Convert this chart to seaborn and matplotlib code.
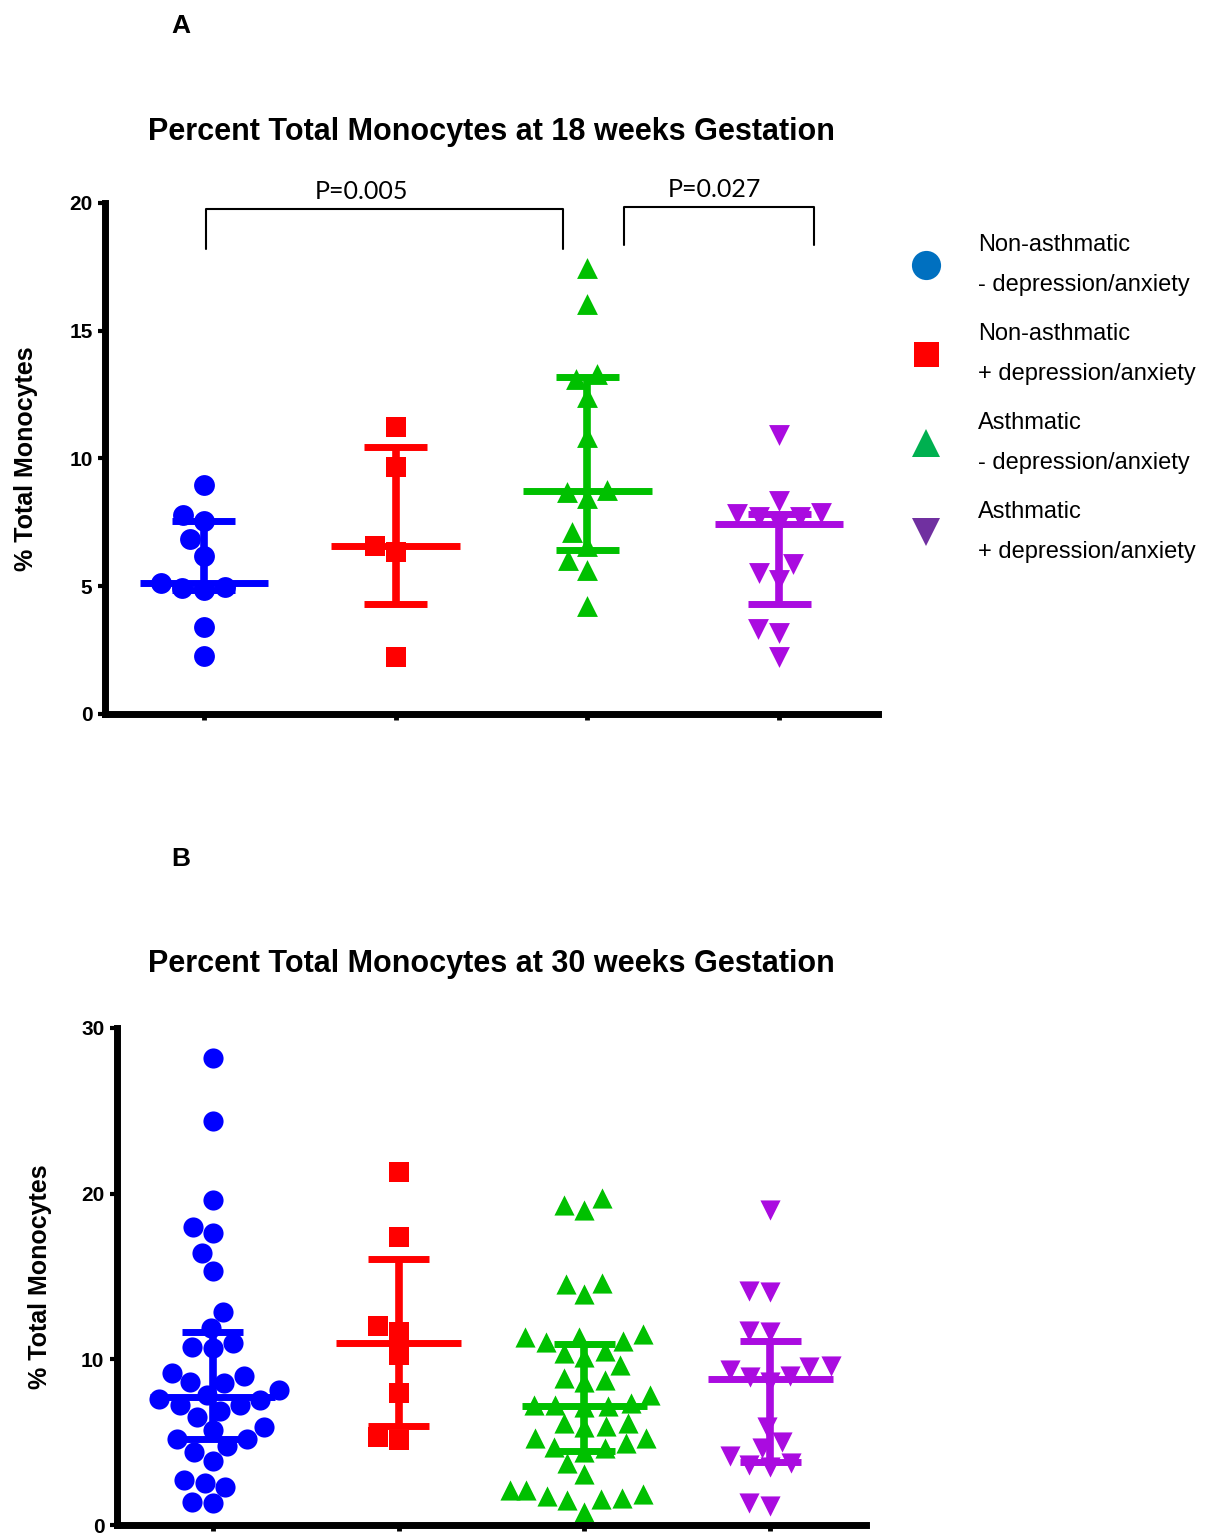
import numpy as np
import pandas as pd
import matplotlib.pyplot as plt
import seaborn as sns
from matplotlib.lines import Line2D
from matplotlib import font_manager

sns.set_theme(style="ticks")
plt.rcParams['font.family'] = ['Liberation Sans', 'DejaVu Sans']
plt.rcParams['text.color'] = 'black'
plt.rcParams['axes.labelcolor'] = 'black'
plt.rcParams['xtick.color'] = 'black'
plt.rcParams['ytick.color'] = 'black'

# Groups, colours and markers
group_keys = ['NA-', 'NA+', 'A-', 'A+']
group_labels = ['Non-asthmatic\n- depression/anxiety',
                'Non-asthmatic\n+ depression/anxiety',
                'Asthmatic\n- depression/anxiety',
                'Asthmatic\n+ depression/anxiety']
point_colors = ['#0000FF', '#FF0000', '#00C000', '#AA0BE0']
legend_colors = ['#0070C0', '#FF0000', '#00B050', '#7030A0']
markers = ['o', 's', '^', 'v']

# Panel A: 18 weeks gestation (% total monocytes)
na_minus_18 = [8.96, 7.79, 7.57, 6.84, 6.20, 5.11, 4.92, 4.85, 4.98, 3.42, 2.27]
na_plus_18 = [11.22, 9.68, 6.59, 6.33, 2.24]
a_minus_18 = [17.44, 16.05, 13.12, 13.32, 12.42, 10.85, 8.69, 8.77, 8.44,
              7.14, 6.56, 6.03, 5.65, 4.24]
a_plus_18 = [10.92, 8.35, 7.85, 7.72, 7.44, 7.72, 7.83, 5.88, 5.53, 5.24,
             3.34, 3.18, 2.23]

# Panel B: 30 weeks gestation (% total monocytes)
na_minus_30 = [28.2, 24.4, 19.6, 18.0, 17.6, 16.4, 15.35, 12.84, 11.87, 10.66,
               10.97, 10.76, 9.19, 8.99, 8.61, 8.59, 8.15, 7.85, 7.24, 7.54,
               7.58, 7.24, 6.88, 6.54, 5.93, 5.73, 5.17, 5.17, 4.42, 4.77,
               3.88, 2.72, 2.28, 2.52, 1.31, 1.41]
na_plus_30 = [21.3, 17.4, 12.0, 11.67, 10.26, 7.95, 5.13, 5.29]
a_minus_30 = [19.72, 19.31, 19.01, 14.62, 14.52, 13.94, 11.53, 11.33, 11.33,
              11.12, 11.03, 10.52, 10.40, 10.16, 9.66, 8.85, 8.75, 8.65, 7.85,
              7.34, 7.24, 7.24, 7.18, 7.14, 6.14, 6.14, 5.97, 5.90, 5.23, 5.23,
              4.93, 4.73, 4.67, 4.42, 3.76, 3.08, 2.11, 2.11, 1.87, 1.75, 1.65,
              1.55, 1.51, 0.80]
a_plus_30 = [19.01, 14.12, 14.04, 11.71, 11.63, 9.60, 9.35, 8.95, 8.65, 9.01,
             9.55, 5.93, 5.03, 4.63, 4.16, 3.62, 3.52, 3.72, 1.17, 1.35]

# Significance brackets on panel A: x start, x end, y top, y leg, text x, label
brackets_18 = [(0.01, 1.875, 19.77, 18.2, 0.82, 'P=0.005'),
               (2.19, 3.18, 19.84, 18.36, 2.66, 'P=0.027')]

# Pick a condensed font for the legend if one is installed
installed = {f.name for f in font_manager.fontManager.ttflist}
if 'Liberation Sans Narrow' in installed:
    legend_font, legend_size = 'Liberation Sans Narrow', 20
else:
    legend_font, legend_size = 'Liberation Sans', 17


def draw_panel(ax, groups_values, size, ymax, yticks, title, title_pad):
    for i, (key, vals) in enumerate(zip(group_keys, groups_values)):
        df = pd.DataFrame({'group': key, 'value': vals})
        sns.swarmplot(data=df, x='group', y='value', order=group_keys,
                      color=point_colors[i], marker=markers[i], size=size,
                      linewidth=0, warn_thresh=1.0, ax=ax, zorder=2)
        # median with interquartile range
        q1, med, q3 = np.percentile(vals, [25, 50, 75], method='weibull')
        ax.hlines(med, i - 0.335, i + 0.335, color=point_colors[i], lw=5, zorder=4)
        ax.hlines([q1, q3], i - 0.165, i + 0.165, color=point_colors[i], lw=5, zorder=4)
        ax.vlines(i, q1, q3, color=point_colors[i], lw=5.5, zorder=4)

    ax.set_xlim(-0.515, 3.515)
    ax.set_ylim(0, ymax)
    ax.set_yticks(yticks)
    ax.set_xticks(range(len(group_keys)))
    ax.set_xticklabels([])
    ax.set_xlabel('')
    ax.set_ylabel('% Total Monocytes', fontsize=18, fontweight='bold')
    ax.yaxis.set_label_coords(-0.087, 0.5)
    ax.set_title(title, fontsize=22, fontweight='bold', pad=title_pad)
    for side in ['top', 'right']:
        ax.spines[side].set_visible(False)
    for side in ['left', 'bottom']:
        ax.spines[side].set_linewidth(5)
        ax.spines[side].set_color('black')
    ax.tick_params(axis='y', length=5, width=3, labelsize=15, pad=4)
    ax.tick_params(axis='x', length=4.5, width=3.5)
    for lab in ax.get_yticklabels():
        lab.set_fontweight('bold')


fig = plt.figure(figsize=(12.17, 15.35), dpi=100)
ax_a = fig.add_axes([0.0863, 0.5349, 0.6351, 0.3329])
ax_b = fig.add_axes([0.0961, 0.00651, 0.6155, 0.3238])

draw_panel(ax_a, [na_minus_18, na_plus_18, a_minus_18, a_plus_18], 15,
           20, [0, 5, 10, 15, 20],
           'Percent Total Monocytes at 18 weeks Gestation', 45)
draw_panel(ax_b, [na_minus_30, na_plus_30, a_minus_30, a_plus_30], 14.5,
           30, [0, 10, 20, 30],
           'Percent Total Monocytes at 30 weeks Gestation', 40)

# P-value brackets
for x0, x1, ytop, yleg, tx, label in brackets_18:
    ax_a.plot([x0, x0, x1, x1], [yleg, ytop, ytop, yleg], color='black',
              lw=1.5, clip_on=False, zorder=5)
    ax_a.text(tx, ytop + 0.22, label, ha='center', va='bottom', fontsize=18,
              family=['Lato', 'DejaVu Sans'], clip_on=False)

# Legend
handles = [Line2D([], [], marker=m, ls='none', color=c, markersize=s,
                  markeredgewidth=0)
           for m, c, s in zip(markers, legend_colors, [21, 18, 20, 20])]
leg = ax_a.legend(handles, group_labels, loc='upper left',
                  bbox_to_anchor=(908 / 1217, 1 - 234 / 1535),
                  bbox_transform=fig.transFigure, frameon=False,
                  handlelength=1.5, handletextpad=1.45, labelspacing=1.15,
                  borderpad=0, borderaxespad=0,
                  prop={'family': legend_font, 'size': legend_size})
for t in leg.get_texts():
    t.set_linespacing(2.05)
    t.set_color('black')

# Panel letters
fig.text(181 / 1217, 1 - 33 / 1535, 'A', ha='center', va='baseline',
         fontsize=19, fontweight='bold')
fig.text(181 / 1217, 1 - 866 / 1535, 'B', ha='center', va='baseline',
         fontsize=19, fontweight='bold')

fig.savefig('out.png', dpi=100)
